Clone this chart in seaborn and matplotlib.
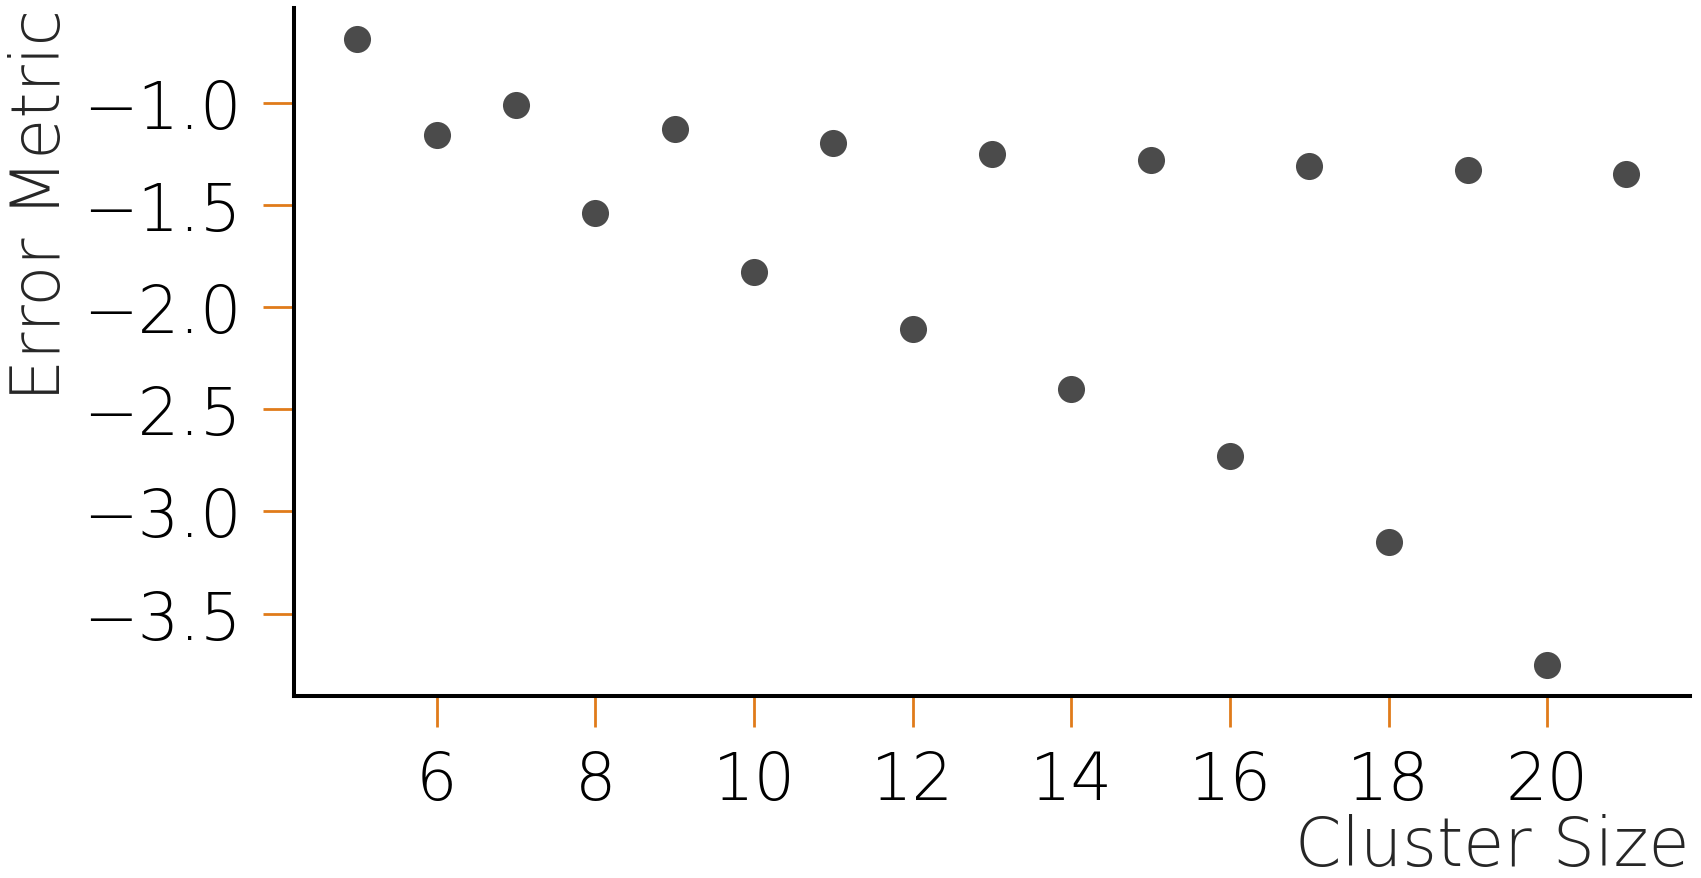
import matplotlib
matplotlib.use("Agg")
import matplotlib.pyplot as plt
import seaborn as sns
import pandas as pd

# -----------------------------
# Data
# -----------------------------
cluster_size = [5, 6, 7, 8, 9, 10, 11, 12, 13, 14, 15, 16, 17, 18, 19, 20, 21]
error_metric = [-0.69, -1.16, -1.01, -1.54, -1.13, -1.83, -1.20, -2.11, -1.25,
                -2.40, -1.28, -2.73, -1.31, -3.15, -1.33, -3.75, -1.35]

TICK_COLOR = "#e07b1a"
POINT_COLOR = "#4b4b4b"

sns.set_theme(style="ticks")
plt.rcParams["font.family"] = ["DejaVu Sans"]
plt.rcParams["font.weight"] = "light"


def run_plot():
    df = pd.DataFrame({"Cluster Size": cluster_size, "Error Metric": error_metric})

    fig = plt.figure(figsize=(17.01, 8.79), dpi=100)
    ax = fig.add_axes([0.1728, 0.2071, 0.8207, 0.7827])

    sns.scatterplot(data=df, x="Cluster Size", y="Error Metric", ax=ax,
                    color=POINT_COLOR, s=380, linewidth=0)

    sns.despine(ax=ax)
    for side in ["left", "bottom"]:
        ax.spines[side].set_linewidth(2.9)
        ax.spines[side].set_color("black")

    ax.set_xticks([6, 8, 10, 12, 14, 16, 18, 20])
    ax.set_yticks([-1.0, -1.5, -2.0, -2.5, -3.0, -3.5])
    ax.tick_params(axis="both", direction="out", length=22, width=2.0,
                   color=TICK_COLOR, labelsize=47, pad=16, labelcolor="black")
    for lab in ax.get_xticklabels() + ax.get_yticklabels():
        lab.set_fontweight("light")

    ax.set_xlabel("Cluster Size", fontsize=48, fontweight="light", loc="right",
                  labelpad=0)
    ax.set_ylabel("Error Metric", fontsize=48, fontweight="light", loc="top",
                  labelpad=6)

    fig.savefig("out.png", dpi=100)
    plt.close(fig)


if __name__ == "__main__":
    run_plot()
